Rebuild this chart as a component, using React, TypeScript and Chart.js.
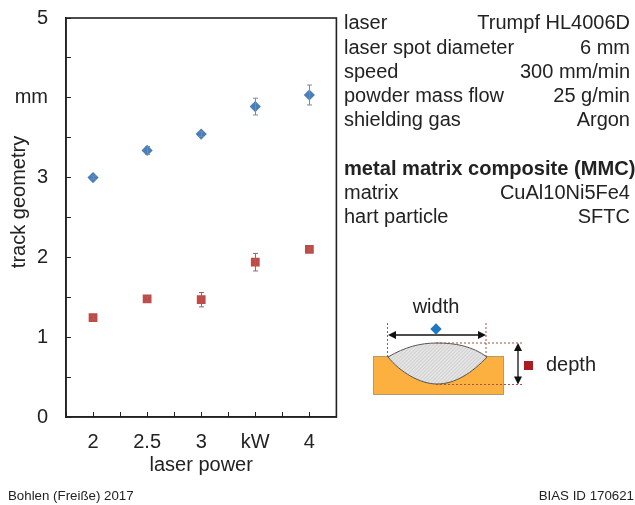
import React, { useEffect, useRef } from "react";
import { Chart, registerables } from "chart.js";

Chart.register(...registerables);

const powers = [2, 2.5, 3, 3.5, 4];
const widthValues = [3.0, 3.34, 3.545, 3.89, 4.035];
const widthErrors = [0.02, 0.05, 0.03, 0.105, 0.125];
const depthValues = [1.245, 1.48, 1.47, 1.94, 2.1];
const depthErrors = [0.02, 0.03, 0.09, 0.11, 0.02];
const yTickLabels: Record<string, string> = { "0": "0", "1": "1", "2": "2", "3": "3", "4": "mm", "5": "5" };
const xTickLabels: Record<string, string> = { "2": "2", "2.5": "2.5", "3": "3", "3.5": "kW", "4": "4" };
const infoRows: [string, string][] = [
  ["laser", "Trumpf HL4006D"],
  ["laser spot diameter", "6 mm"],
  ["speed", "300 mm/min"],
  ["powder mass flow", "25 g/min"],
  ["shielding gas", "Argon"],
];
const compositeRows: [string, string][] = [
  ["matrix", "CuAl10Ni5Fe4"],
  ["hart particle", "SFTC"],
];

const FONT = '"Liberation Sans", Arial, sans-serif';
const INK = "#222222";
const BLUE = "#4A7EBB";
const RED = "#BE4B48";

const errorBars = {
  id: "errorBars",
  afterDatasetsDraw(chart: any) {
    const { ctx, scales } = chart;
    const sets = [
      { v: widthValues, e: widthErrors, c: "#6E8CAD" },
      { v: depthValues, e: depthErrors, c: "#A8605E" },
    ];
    ctx.save();
    ctx.lineWidth = 1;
    sets.forEach((s) => {
      ctx.strokeStyle = s.c;
      s.v.forEach((val, i) => {
        const x = Math.round(scales.x.getPixelForValue(powers[i])) + 0.5;
        const hi = scales.y.getPixelForValue(val + s.e[i]);
        const lo = scales.y.getPixelForValue(val - s.e[i]);
        ctx.beginPath();
        ctx.moveTo(x, hi);
        ctx.lineTo(x, lo);
        ctx.moveTo(x - 2.5, hi);
        ctx.lineTo(x + 2.5, hi);
        ctx.moveTo(x - 2.5, lo);
        ctx.lineTo(x + 2.5, lo);
        ctx.stroke();
      });
    });
    ctx.restore();
  },
};

const frame = {
  id: "frame",
  afterDraw(chart: any) {
    const { ctx, chartArea: a } = chart;
    ctx.save();
    ctx.strokeStyle = INK;
    ctx.lineWidth = 1.6;
    ctx.strokeRect(a.left, a.top, a.right - a.left, a.bottom - a.top);
    ctx.restore();
  },
};

const noPadding = (s: any) => {
  s.paddingTop = 0;
  s.paddingBottom = 0;
  s.paddingLeft = 0;
  s.paddingRight = 0;
};

export default function App() {
  const ref = useRef<HTMLCanvasElement>(null);
  useEffect(() => {
    const chart = new Chart(ref.current!, {
      type: "scatter",
      data: {
        datasets: [
          {
            label: "width",
            data: powers.map((x, i) => ({ x, y: widthValues[i] })),
            pointStyle: "rectRot",
            pointRadius: 5.6,
            backgroundColor: BLUE,
            borderColor: BLUE,
            borderWidth: 0,
          },
          {
            label: "depth",
            data: powers.map((x, i) => ({ x, y: depthValues[i] })),
            pointStyle: "rect",
            pointRadius: 6.2,
            backgroundColor: RED,
            borderColor: RED,
            borderWidth: 0,
          },
        ],
      },
      options: {
        animation: false,
        responsive: false,
        layout: { padding: { left: 0, top: 18, right: 298.6, bottom: 28 } },
        plugins: { legend: { display: false }, tooltip: { enabled: false } },
        scales: {
          x: {
            type: "linear",
            min: 1.75,
            max: 4.25,
            afterFit: (s: any) => { s.height = 60; noPadding(s); },
            afterBuildTicks: (s: any) => {
              const t = [];
              for (let i = 0; i <= 10; i++) t.push({ value: 1.75 + i * 0.25 });
              s.ticks = t;
            },
            grid: { display: true, drawOnChartArea: false, drawTicks: true, tickLength: -5, tickColor: INK, tickWidth: 1 },
            border: { color: INK, width: 1.6 },
            ticks: {
              autoSkip: false,
              maxRotation: 0,
              padding: 18,
              color: INK,
              font: { family: FONT, size: 20 },
              callback: (v: any) => xTickLabels[String(v)] ?? "",
            },
            title: {
              display: true,
              text: "laser power",
              color: INK,
              font: { family: FONT, size: 20 },
              padding: { top: 0, bottom: 0 },
            },
          },
          y: {
            min: 0,
            max: 5,
            afterFit: (s: any) => { s.width = 66; noPadding(s); },
            afterBuildTicks: (s: any) => {
              const t = [];
              for (let i = 0; i <= 10; i++) t.push({ value: i * 0.5 });
              s.ticks = t;
            },
            grid: { display: true, drawOnChartArea: false, drawTicks: true, tickLength: -5, tickColor: INK, tickWidth: 1 },
            border: { color: INK, width: 1.6 },
            ticks: {
              autoSkip: false,
              padding: 23,
              color: INK,
              font: { family: FONT, size: 20 },
              callback: (v: any) => yTickLabels[String(v)] ?? "",
            },
          },
        },
      },
      plugins: [errorBars, frame],
    } as any);
    return () => chart.destroy();
  }, []);

  const textStyle = { fontFamily: FONT, fill: INK };
  const ys = [29, 54, 78, 102, 126];
  return (
    <div style={{ position: "fixed", left: 0, top: 0, width: 635, height: 505, background: "#fff" }}>
      <canvas ref={ref} width={635} height={505} style={{ display: "block", position: "absolute", left: 0, top: 0 }} />
      <svg width={635} height={505} style={{ position: "absolute", left: 0, top: 0 }}>
        <defs>
          <pattern id="hatch" width="2.5" height="2.5" patternUnits="userSpaceOnUse" patternTransform="rotate(45)">
            <rect width="2.5" height="2.5" fill="#E4E4E4" />
            <line x1="0" y1="0" x2="0" y2="2.5" stroke="#BDBDBD" strokeWidth="0.9" />
          </pattern>
        </defs>
        <text x={0} y={0} transform="translate(25,202) rotate(-90)" textAnchor="middle" fontSize={20} style={textStyle}>
          track geometry
        </text>
        {infoRows.map(([k, v], i) => (
          <g key={k}>
            <text x={344} y={ys[i]} fontSize={20} style={textStyle}>{k}</text>
            <text x={630} y={ys[i]} fontSize={20} textAnchor="end" style={textStyle}>{v}</text>
          </g>
        ))}
        <text x={344} y={175} fontSize={20.1} fontWeight="bold" style={textStyle}>metal matrix composite (MMC)</text>
        {compositeRows.map(([k, v], i) => (
          <g key={k}>
            <text x={344} y={199 + i * 24} fontSize={20} style={textStyle}>{k}</text>
            <text x={630} y={199 + i * 24} fontSize={20} textAnchor="end" style={textStyle}>{v}</text>
          </g>
        ))}
        <text x={8} y={500} fontSize={13.3} style={textStyle}>Bohlen (Freiße) 2017</text>
        <text x={634} y={500} fontSize={13.3} textAnchor="end" style={textStyle}>BIAS ID 170621</text>

        {/* process sketch */}
        <rect x={373.5} y={356.5} width={130} height={38} fill="#FBB040" stroke="#B09A78" strokeWidth={1} />
        <path d="M388 357 C405 347 420 343 437 343 C455 343 472 346 487 357 C472 373 455 384 437 384 C420 384 400 372 388 357 Z" fill="url(#hatch)" stroke="#555" strokeWidth={1} />
        <g stroke="#A0524F" strokeWidth={1} strokeDasharray="2 2" fill="none">
          <line x1={387.5} y1={323} x2={387.5} y2={357} />
          <line x1={486} y1={323} x2={486} y2={357} />
          <line x1={436} y1={343} x2={524} y2={343} />
          <line x1={436} y1={384.5} x2={524} y2={384.5} />
        </g>
        <g stroke="#111" strokeWidth={1.3} fill="#111">
          <line x1={391} y1={335} x2={483} y2={335} />
          <path d="M388 335 L396 331 L396 339 Z" stroke="none" />
          <path d="M486 335 L478 331 L478 339 Z" stroke="none" />
          <line x1={518} y1={346} x2={518} y2={382} />
          <path d="M518 343 L514 351 L522 351 Z" stroke="none" />
          <path d="M518 384.5 L514 376.5 L522 376.5 Z" stroke="none" />
        </g>
        <rect x={432} y={325} width={8} height={8} fill="#1F78C1" transform="rotate(45 436 329)" />
        <rect x={524} y={361} width={9} height={9} fill="#A81C22" />
        <text x={436} y={313} fontSize={20} textAnchor="middle" style={textStyle}>width</text>
        <text x={546} y={371} fontSize={20} style={textStyle}>depth</text>
      </svg>
    </div>
  );
}
